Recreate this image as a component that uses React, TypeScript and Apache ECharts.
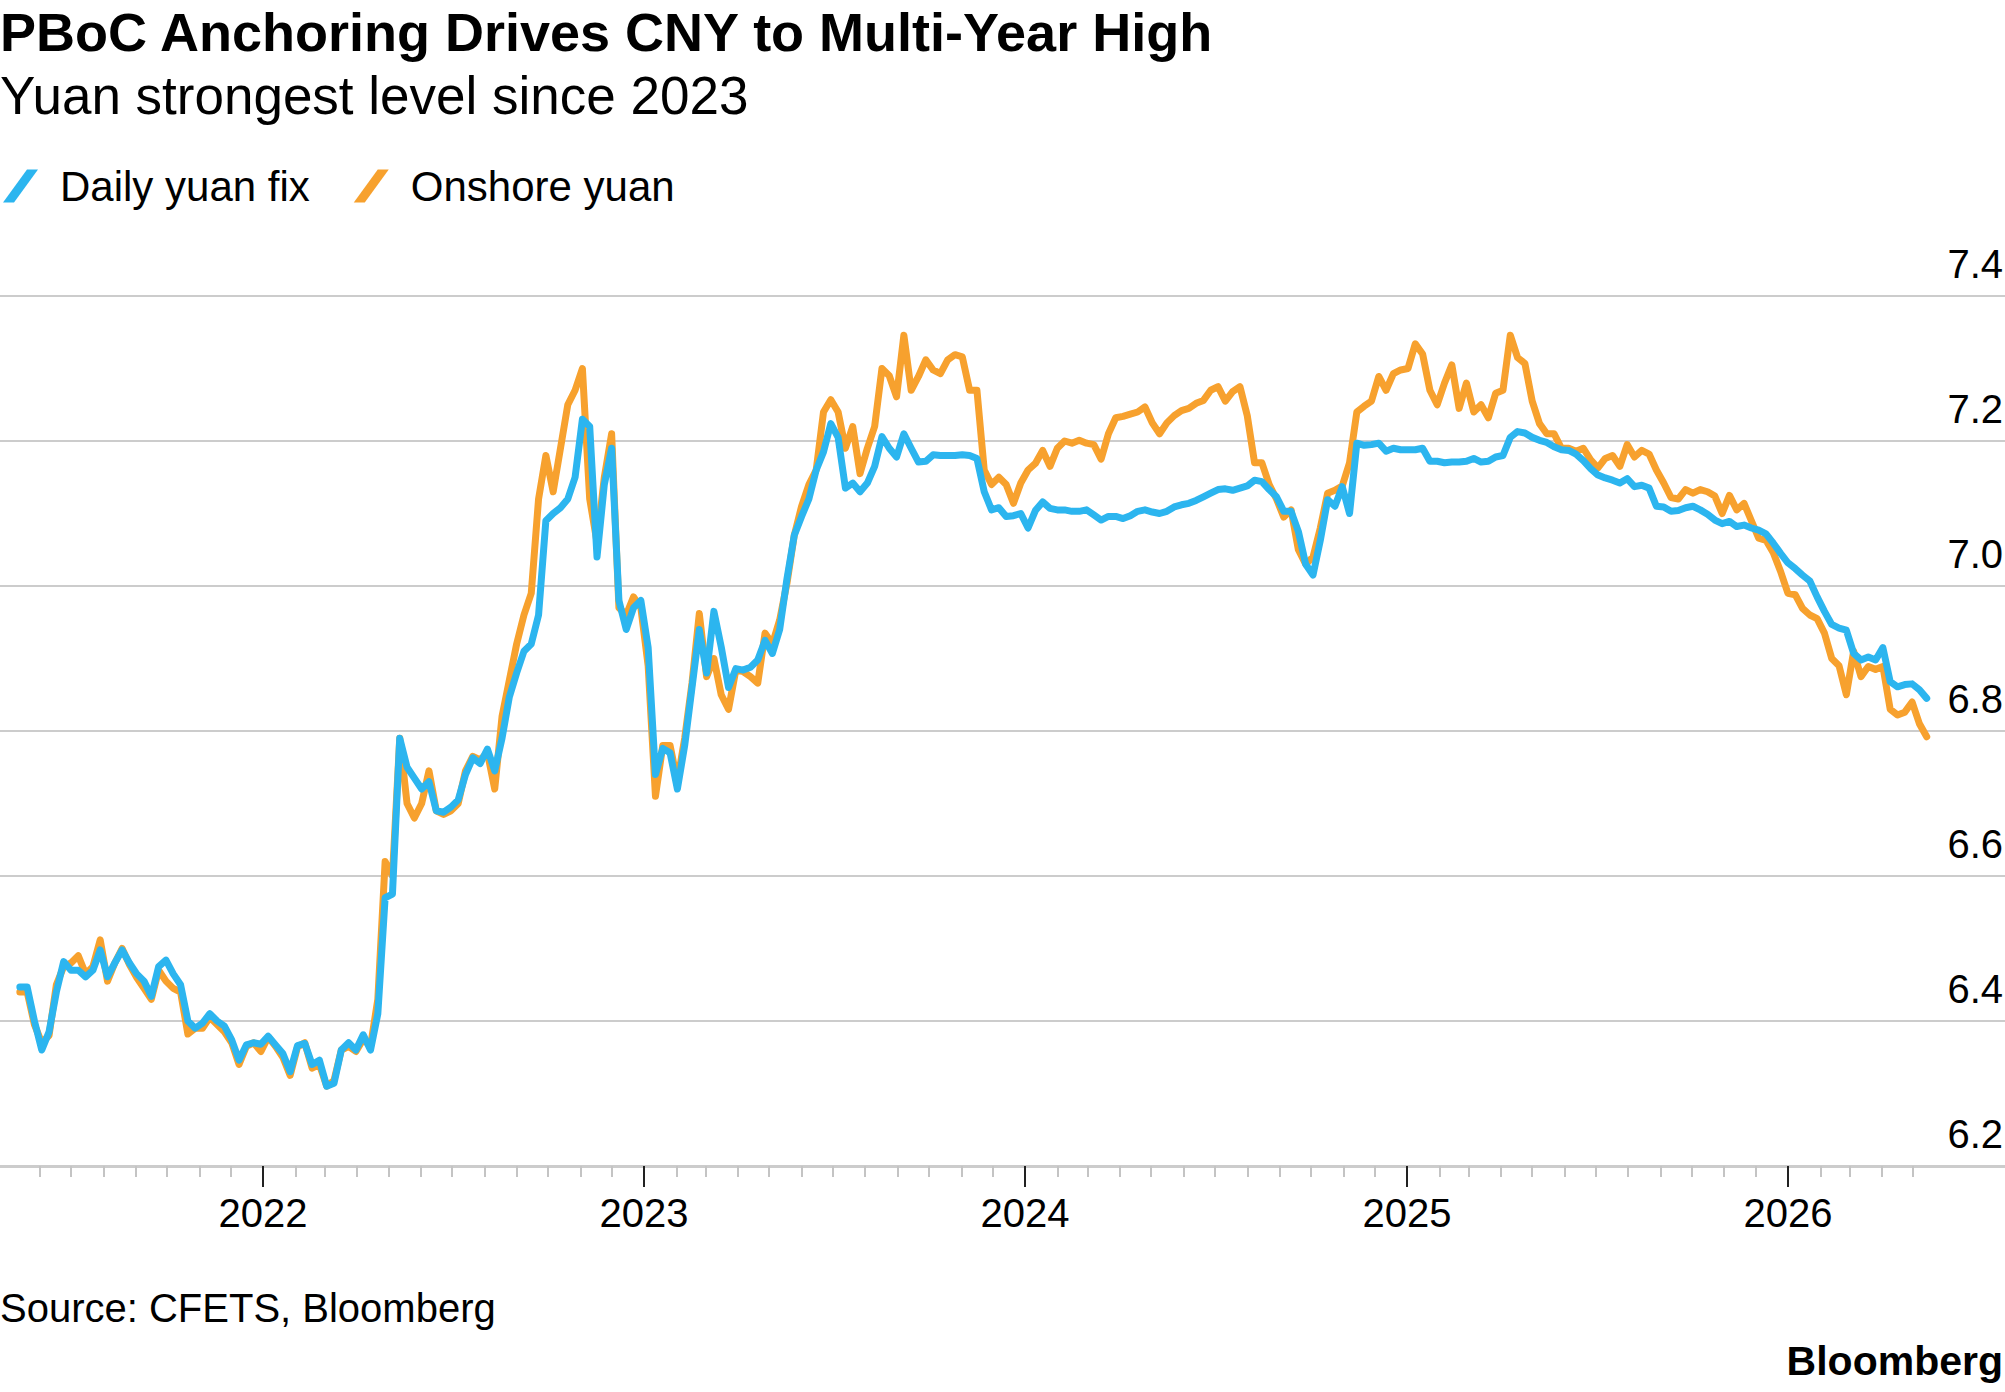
import React, { useEffect, useRef } from "react";
import * as echarts from "echarts";

const TITLE = "PBoC Anchoring Drives CNY to Multi-Year High";
const SUBTITLE = "Yuan strongest level since 2023";
const SOURCE = "Source: CFETS, Bloomberg";
const BRAND = "Bloomberg";
const SERIES_NAMES = ["Daily yuan fix", "Onshore yuan"];
const YEAR_TICKS = [2022, 2023, 2024, 2025, 2026];
const Y_MIN = 6.2;
const Y_MAX = 7.4;
const Y_STEP = 0.2;

// weekly observations, starting 2021-05-13
const START_DATE = "2021-05-13";
const STEP_DAYS = 7;

const fixValues = [
  6.447, 6.447, 6.40, 6.36, 6.385, 6.44, 6.482, 6.47, 6.47, 6.461,
  6.47, 6.498, 6.461, 6.48, 6.498, 6.48, 6.465, 6.455, 6.434, 6.475,
  6.484, 6.465, 6.45, 6.40, 6.39, 6.397, 6.41, 6.40, 6.393, 6.374,
  6.346, 6.367, 6.37, 6.368, 6.379, 6.367, 6.355, 6.33, 6.366, 6.369,
  6.34, 6.346, 6.31, 6.314, 6.36, 6.37, 6.36, 6.381, 6.36, 6.41,
  6.57, 6.575, 6.79, 6.75, 6.735, 6.72, 6.73, 6.69, 6.688, 6.695,
  6.705, 6.74, 6.763, 6.755, 6.775, 6.745, 6.79, 6.847, 6.88, 6.91,
  6.92, 6.96, 7.09, 7.10, 7.108, 7.12, 7.15, 7.23, 7.22, 7.04,
  7.14, 7.19, 6.98, 6.94, 6.97, 6.98, 6.915, 6.74, 6.776, 6.77,
  6.72, 6.78, 6.86, 6.94, 6.88, 6.965, 6.916, 6.86, 6.886, 6.884,
  6.888, 6.898, 6.925, 6.907, 6.94, 7.01, 7.07, 7.096, 7.12, 7.16,
  7.185, 7.224, 7.205, 7.135, 7.142, 7.13, 7.142, 7.165, 7.206, 7.19,
  7.178, 7.21, 7.19, 7.171, 7.172, 7.181, 7.18, 7.18, 7.18, 7.181,
  7.18, 7.176, 7.13, 7.105, 7.108, 7.096, 7.097, 7.10, 7.08, 7.104,
  7.116, 7.107, 7.105, 7.105, 7.103, 7.103, 7.105, 7.098, 7.091, 7.096,
  7.096, 7.093, 7.097, 7.103, 7.105, 7.102, 7.10, 7.103, 7.109, 7.112,
  7.114, 7.118, 7.123, 7.128, 7.133, 7.134, 7.132, 7.135, 7.138, 7.146,
  7.144, 7.133, 7.123, 7.103, 7.103, 7.075, 7.03, 7.015, 7.063, 7.119,
  7.11, 7.137, 7.10, 7.197, 7.194, 7.195, 7.197, 7.186, 7.19, 7.188,
  7.188, 7.188, 7.19, 7.172, 7.172, 7.17, 7.171, 7.171, 7.172, 7.176,
  7.171, 7.172, 7.178, 7.18, 7.205, 7.213, 7.211, 7.205, 7.201, 7.198,
  7.192, 7.188, 7.187, 7.182, 7.173, 7.162, 7.153, 7.149, 7.146, 7.142,
  7.148, 7.137, 7.139, 7.135, 7.11, 7.109, 7.103, 7.104, 7.108, 7.11,
  7.105, 7.099, 7.091, 7.086, 7.089, 7.082, 7.084, 7.08, 7.077, 7.072,
  7.059, 7.045, 7.032, 7.024, 7.015, 7.007, 6.985, 6.965, 6.947, 6.942,
  6.939, 6.907, 6.898, 6.902, 6.898, 6.915, 6.868, 6.861, 6.864, 6.865,
  6.857, 6.845,
];

const onshoreValues = [
  6.44, 6.44, 6.395, 6.37, 6.38, 6.45, 6.475, 6.48, 6.49, 6.465,
  6.475, 6.512, 6.455, 6.48, 6.50, 6.478, 6.46, 6.445, 6.43, 6.47,
  6.455, 6.445, 6.44, 6.382, 6.39, 6.39, 6.405, 6.395, 6.385, 6.37,
  6.34, 6.365, 6.37, 6.358, 6.378, 6.365, 6.35, 6.325, 6.364, 6.37,
  6.335, 6.34, 6.31, 6.318, 6.36, 6.365, 6.358, 6.375, 6.365, 6.43,
  6.62, 6.60, 6.79, 6.70, 6.68, 6.70, 6.745, 6.69, 6.685, 6.69,
  6.70, 6.745, 6.765, 6.76, 6.77, 6.72, 6.82, 6.87, 6.92, 6.96,
  6.99, 7.12, 7.18, 7.13, 7.19, 7.25, 7.27, 7.30, 7.12, 7.06,
  7.15, 7.21, 6.97, 6.96, 6.985, 6.97, 6.89, 6.71, 6.78, 6.78,
  6.73, 6.79, 6.866, 6.962, 6.875, 6.90, 6.85, 6.83, 6.884, 6.882,
  6.875, 6.866, 6.935, 6.92, 6.953, 7.004, 7.07, 7.11, 7.14, 7.16,
  7.24, 7.257, 7.24, 7.19, 7.22, 7.155, 7.19, 7.22, 7.30, 7.29,
  7.261, 7.346, 7.27, 7.289, 7.312, 7.298, 7.293, 7.312, 7.319, 7.316,
  7.27, 7.27, 7.16, 7.14, 7.15, 7.14, 7.114, 7.142, 7.16, 7.169,
  7.187, 7.165, 7.19, 7.20, 7.197, 7.201, 7.197, 7.195, 7.175, 7.21,
  7.232, 7.234, 7.237, 7.24, 7.247, 7.225, 7.21, 7.225, 7.235, 7.242,
  7.245, 7.252, 7.256, 7.27, 7.275, 7.255, 7.268, 7.275, 7.235, 7.17,
  7.17, 7.14, 7.12, 7.095, 7.105, 7.05, 7.03, 7.04, 7.08, 7.128,
  7.132, 7.138, 7.17, 7.24, 7.248, 7.255, 7.289, 7.27, 7.293, 7.298,
  7.30, 7.334, 7.32, 7.27, 7.25, 7.28, 7.305, 7.245, 7.28, 7.24,
  7.25, 7.232, 7.266, 7.27, 7.346, 7.315, 7.307, 7.255, 7.224, 7.21,
  7.21, 7.19, 7.19, 7.186, 7.19, 7.174, 7.163, 7.176, 7.18, 7.165,
  7.195, 7.178, 7.187, 7.182, 7.16, 7.142, 7.122, 7.12, 7.133, 7.128,
  7.133, 7.13, 7.124, 7.10, 7.125, 7.105, 7.114, 7.09, 7.066, 7.063,
  7.046, 7.02, 6.99, 6.988, 6.969, 6.96, 6.955, 6.935, 6.90, 6.89,
  6.85, 6.91, 6.875, 6.889, 6.885, 6.889, 6.83, 6.822, 6.826, 6.84,
  6.81, 6.792,
];

const X_MIN = "2021-04-24";
const X_MAX = "2026-07-28";

const BLUE = "#2cb5ef";
const ORANGE = "#f7a12e";
const GRID_COLOR = "#cccccc";
const FONT = "'Liberation Sans', Arial, Helvetica, sans-serif";
const LEGEND_ICON = "path://M0,33 L24,0 L35,0 L11,33 Z";

const DAY = 86400000;
const ts = (s: string) => Date.parse(s + "T00:00:00Z");

export default function App() {
  const ref = useRef<HTMLDivElement>(null);

  useEffect(() => {
    if (!ref.current) return;
    const chart = echarts.init(ref.current, null, { renderer: "svg" });
    const t0 = ts(START_DATE);
    const toPoints = (vals: number[]) =>
      vals.map((v, i) => [t0 + i * STEP_DAYS * DAY, v]);

    const yearTs = YEAR_TICKS.map((y) => Date.UTC(y, 0, 1));
    const monthTs: number[] = [];
    const minT = ts(X_MIN);
    const maxT = ts(X_MAX);
    for (let y = 2021; y <= 2026; y++) {
      for (let m = 1; m < 12; m++) {
        const t = Date.UTC(y, m, 1);
        if (t > minT + 20 * DAY && t < ts("2026-05-15")) monthTs.push(t);
      }
    }

    const option: any = {
      animation: false,
      backgroundColor: "#ffffff",
      textStyle: { fontFamily: FONT },
      title: {
        text: TITLE,
        subtext: SUBTITLE,
        left: 0,
        top: 5,
        padding: 0,
        itemGap: 10,
        textStyle: {
          fontFamily: FONT,
          fontSize: 54,
          fontWeight: "bold",
          color: "#000",
          lineHeight: 54,
        },
        subtextStyle: {
          fontFamily: FONT,
          fontSize: 53,
          color: "#000",
          lineHeight: 53,
        },
      },
      legend: {
        left: 3,
        top: 165,
        padding: 0,
        itemWidth: 35,
        itemHeight: 33,
        itemGap: 44,
        selectedMode: false,
        textStyle: {
          fontFamily: FONT,
          fontSize: 42,
          color: "#000",
          lineHeight: 42,
          padding: [0, 0, 0, 17],
        },
        data: [
          { name: SERIES_NAMES[0], icon: LEGEND_ICON, itemStyle: { color: BLUE } },
          { name: SERIES_NAMES[1], icon: LEGEND_ICON, itemStyle: { color: ORANGE } },
        ],
      },
      grid: {
        left: 0,
        right: 0,
        top: 296,
        bottom: 226,
        containLabel: false,
        outerBoundsMode: "none",
      },
      xAxis: [
        {
          type: "value",
          gridIndex: 0,
          position: "bottom",
          min: minT,
          max: maxT,
          axisLine: { show: true, onZero: false, lineStyle: { color: GRID_COLOR, width: 3 } },
          axisTick: {
            show: true,
            customValues: yearTs,
            length: 21,
            lineStyle: { color: "#222", width: 2 },
          },
          axisLabel: {
            show: true,
            customValues: yearTs,
            formatter: (v: number) => String(new Date(v).getUTCFullYear()),
            fontFamily: FONT,
            fontSize: 40,
            lineHeight: 40,
            color: "#000",
            margin: 27,
          },
          splitLine: { show: false },
        },
        {
          type: "value",
          gridIndex: 0,
          position: "bottom",
          min: minT,
          max: maxT,
          axisLine: { show: false, onZero: false },
          axisTick: {
            show: true,
            customValues: monthTs,
            length: 11,
            lineStyle: { color: "#c4c4c4", width: 2 },
          },
          axisLabel: { show: false },
          splitLine: { show: false },
        },
      ],
      yAxis: {
        type: "value",
        position: "right",
        min: Y_MIN,
        max: Y_MAX,
        interval: Y_STEP,
        axisLine: { show: false },
        axisTick: { show: false },
        splitLine: { show: true, lineStyle: { color: GRID_COLOR, width: 2 } },
        axisLabel: {
          inside: true,
          margin: 2,
          fontFamily: FONT,
          fontSize: 40,
          lineHeight: 40,
          color: "#000",
          verticalAlign: "bottom",
          padding: [0, 0, 12, 0],
          formatter: (v: number) => v.toFixed(1),
        },
      },
      series: [
        {
          name: SERIES_NAMES[1],
          type: "line",
          xAxisIndex: 0,
          yAxisIndex: 0,
          data: toPoints(onshoreValues),
          showSymbol: false,
          symbol: "none",
          silent: true,
          color: ORANGE,
          lineStyle: { color: ORANGE, width: 7, join: "round", cap: "round" },
          z: 2,
        },
        {
          name: SERIES_NAMES[0],
          type: "line",
          xAxisIndex: 0,
          yAxisIndex: 0,
          data: toPoints(fixValues),
          showSymbol: false,
          symbol: "none",
          silent: true,
          color: BLUE,
          lineStyle: { color: BLUE, width: 7, join: "round", cap: "round" },
          z: 3,
        },
      ],
      graphic: [
        {
          type: "text",
          x: 0,
          y: 1308,
          style: {
            text: SOURCE,
            fontFamily: FONT,
            fontSize: 40,
            fill: "#000",
            align: "left",
            verticalAlign: "middle",
          },
        },
        {
          type: "text",
          x: 2003,
          y: 1361,
          style: {
            text: BRAND,
            fontFamily: FONT,
            fontSize: 41,
            fontWeight: "bold",
            fill: "#000",
            align: "right",
            verticalAlign: "middle",
          },
        },
      ],
    };

    chart.setOption(option);
    return () => chart.dispose();
  }, []);

  return (
    <div
      ref={ref}
      style={{
        position: "absolute",
        left: 0,
        top: 0,
        width: 2005,
        height: 1392,
        background: "#fff",
      }}
    />
  );
}
